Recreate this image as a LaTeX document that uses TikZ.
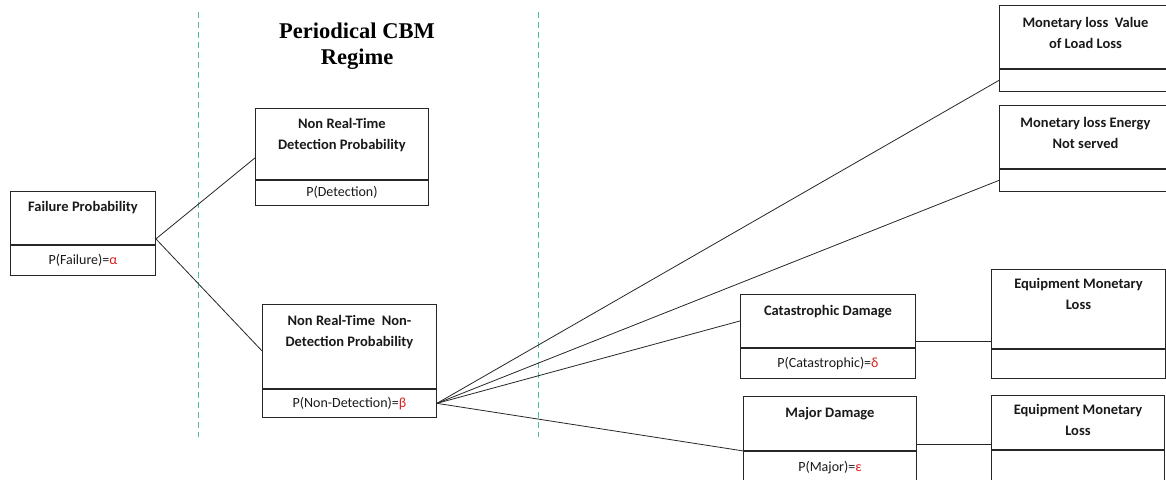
\documentclass[tikz,border=0pt]{standalone}
\usepackage{fontspec}
\setmainfont{Carlito}
\newfontfamily\titlefont{Liberation Serif}
\usetikzlibrary{calc}

\definecolor{regimeline}{RGB}{75,186,166}
\definecolor{probred}{RGB}{225,30,30}
\newcommand{\redg}[1]{\textcolor{probred}{#1}}

\tikzset{
  boxtop/.style={draw=black!85, line width=0.9pt, anchor=north west, inner sep=0pt},
  boxbot/.style={draw=black!85, line width=0.9pt, anchor=north west, inner sep=0pt,
    text=black!90, font=\fontsize{14}{17}\selectfont},
  boxhead/.style={anchor=north, inner sep=0pt, align=center, text=black!90,
    font=\bfseries\fontsize{14.5}{21}\selectfont},
  link/.style={draw=black!85, line width=0.8pt},
  regime/.style={draw=regimeline, line width=1pt, dash pattern=on 6pt off 4pt}
}

\begin{document}
\begin{tikzpicture}[x=1pt,y=1pt]
            \useasboundingbox (0,0) rectangle (1166,479);
            \clip (0,0) rectangle (1166,479);

            % regime borders and title
            \draw[regime] (198,467) -- (198,42);
            \draw[regime] (538,467) -- (538,42);
            \node[anchor=north, align=center, inner sep=0pt,
                  font=\titlefont\bfseries\fontsize{22.5}{26}\selectfont] (regime) at (357,456)
                  {Periodical CBM\\Regime};

            % failure
            \node[boxtop, minimum width=145pt, minimum height=53pt] (fail) at (10,288) {};
            \node[boxbot, minimum width=145pt, minimum height=30pt] (failp) at (fail.south west) {P(Failure)=\redg{α}};
            \node[boxhead] (failt) at ([yshift=-10pt]fail.north) {Failure Probability};

            % detection
            \node[boxtop, minimum width=173pt, minimum height=71pt] (det) at (255,371) {};
            \node[boxbot, minimum width=173pt, minimum height=25pt] (detp) at (det.south west) {P(Detection)};
            \node[boxhead] (dett) at ([yshift=-10pt]det.north) {Non Real-Time\\Detection Probability};

            % non-detection
            \node[boxtop, minimum width=174pt, minimum height=84pt] (ndet) at (262,175) {};
            \node[boxbot, minimum width=174pt, minimum height=28pt] (ndetp) at (ndet.south west) {P(Non-Detection)=\redg{β}};
            \node[boxhead] (ndett) at ([yshift=-11pt]ndet.north) {Non Real-Time\ \ Non-\\Detection Probability};

            % damage classes
            \node[boxtop, minimum width=175pt, minimum height=53pt] (cat) at (740,185) {};
            \node[boxbot, minimum width=175pt, minimum height=30pt] (catp) at (cat.south west) {P(Catastrophic)=\redg{δ}};
            \node[boxhead] (catt) at ([yshift=-11pt]cat.north) {Catastrophic Damage};

            \node[boxtop, minimum width=173pt, minimum height=54pt] (major) at (743,83) {};
            \node[boxbot, minimum width=173pt, minimum height=33pt] (majorp) at (major.south west) {P(Major)=\redg{ε}};
            \node[boxhead] (majort) at ([yshift=-11pt]major.north) {Major Damage};
            \draw[line width=1.6pt, black!85] (major.south west) -- (major.south east);

            % monetary losses
            \node[boxtop, minimum width=172pt, minimum height=63pt] (mon1) at (999,474) {};
            \node[boxbot, minimum width=172pt, minimum height=22pt] (mon1p) at (mon1.south west) {};
            \node[boxhead] (mon1t) at ([yshift=-12pt]mon1.north) {Monetary loss\ \ Value\\of Load Loss};

            \node[boxtop, minimum width=172pt, minimum height=63pt] (mon2) at (999,374) {};
            \node[boxbot, minimum width=172pt, minimum height=22pt] (mon2p) at (mon2.south west) {};
            \node[boxhead] (mon2t) at ([yshift=-12pt]mon2.north) {Monetary loss Energy\\Not served};

            \node[boxtop, minimum width=174pt, minimum height=79pt] (equip1) at (991,210) {};
            \node[boxbot, minimum width=174pt, minimum height=29pt] (equip1p) at (equip1.south west) {};
            \node[boxhead] (equip1t) at ([yshift=-9pt]equip1.north) {Equipment Monetary\\Loss};

            \node[boxtop, minimum width=173pt, minimum height=54pt] (equip2) at (991,84) {};
            \node[boxbot, minimum width=173pt, minimum height=33pt] (equip2p) at (equip2.south west) {};
            \node[boxhead] (equip2t) at ([yshift=-9pt]equip2.north) {Equipment Monetary\\Loss};
            \draw[line width=1.6pt, black!85] (equip2.south west) -- (equip2.south east);

            % branches
            \coordinate (failout) at ([yshift=6pt]fail.south east);
            \draw[link] (failout) -- ([yshift=22pt]det.south west);
            \draw[link] (failout) -- ([yshift=38pt]ndet.south west);

            \draw[link] (ndetp.east) -- (mon1p.west);
            \draw[link] (ndetp.east) -- (mon2p.west);
            \draw[link] (ndetp.east) -- (cat.west);
            \draw[link] (ndetp.east) -- (major.south west);

            \draw[link] ([yshift=6pt]cat.south east) -- ([yshift=6pt]cat.south east -| equip1.west);
            \draw[link] ([yshift=7pt]major.south east) -- ([yshift=7pt]major.south east -| equip2.west);
        \end{tikzpicture}
\end{document}
